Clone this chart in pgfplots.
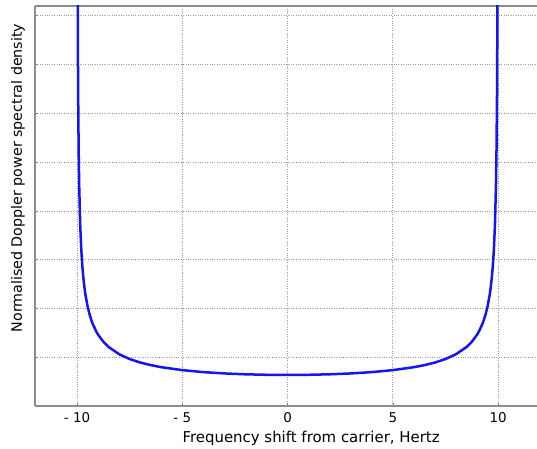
\documentclass[border=0pt]{standalone}
\usepackage{pgfplots}
\pgfplotsset{compat=1.18}
\usepackage{fontspec}
\setmainfont{DejaVu Sans}
\begin{document}
\begin{tikzpicture}
\useasboundingbox (-35bp,-43bp) rectangle (502bp,406bp);
\begin{axis}[
 scale only axis, width=502bp, height=400bp,
 anchor=south west, at={(0,0)},
 xmin=-12, xmax=11.85, ymin=0, ymax=0.41,
 axis x line*=box, axis y line*=left,
 axis line style={black!45, line width=1.4bp},
 xtick={-10,-5,0,5,10}, xticklabels={- 10,- 5,0,5,10},
 ytick={0.05,0.1,0.15,0.2,0.25,0.3,0.35,0.4}, yticklabels={},
 grid=major, grid style={dotted, black!40, line width=0.7bp},
 major tick length=3bp, tick style={black!50, line width=0.6bp},
 xtick pos=bottom,
 tick label style={font=\fontsize{13.5}{14}\selectfont},
 xticklabel style={yshift=-3bp},
 xlabel={Frequency shift from carrier, Hertz},
 ylabel={Normalised Doppler power spectral density},
 xlabel style={font=\fontsize{15}{16}\selectfont, at={(axis description cs:0.55,-0.081)}, anchor=center},
 ylabel style={font=\fontsize{14.3}{15}\selectfont, at={(axis description cs:-0.034,0.57)}, anchor=center},
 clip=true,
]
\addplot[color={rgb,255:red,20;green,20;blue,245}, line width=2.5bp] coordinates {
(-9.995,1.0066) (-9.98,0.50357) (-9.965,0.38079) (-9.95,0.31872) (-9.925,0.26040)
(-9.9,0.22564) (-9.85,0.18447) (-9.8,0.15996) (-9.75,0.14325) (-9.7,0.13094)
(-9.65,0.12138) (-9.6,0.11368) (-9.5,0.10194) (-9.4,0.09330) (-9.3,0.08660)
(-9.25,0.08377) (-9.1,0.07677) (-9,0.07303) (-8.75,0.06575) (-8.5,0.06043)
(-8,0.05305) (-7.5,0.04812) (-7,0.04457) (-6.5,0.04189) (-6,0.03979)
(-5,0.03676) (-4,0.03473) (-3,0.03337) (-2,0.03249) (-1,0.03199) (0,0.03183)
(1,0.03199) (2,0.03249) (3,0.03337) (4,0.03473) (5,0.03676) (6,0.03979)
(6.5,0.04189) (7,0.04457) (7.5,0.04812) (8,0.05305) (8.5,0.06043) (8.75,0.06575)
(9,0.07303) (9.1,0.07677) (9.25,0.08377) (9.3,0.08660) (9.4,0.09330) (9.5,0.10194)
(9.6,0.11368) (9.65,0.12138) (9.7,0.13094) (9.75,0.14325) (9.8,0.15996)
(9.85,0.18447) (9.9,0.22564) (9.925,0.26040) (9.95,0.31872) (9.965,0.38079)
(9.98,0.50357) (9.995,1.0066)
};
\end{axis}
\end{tikzpicture}
\end{document}
